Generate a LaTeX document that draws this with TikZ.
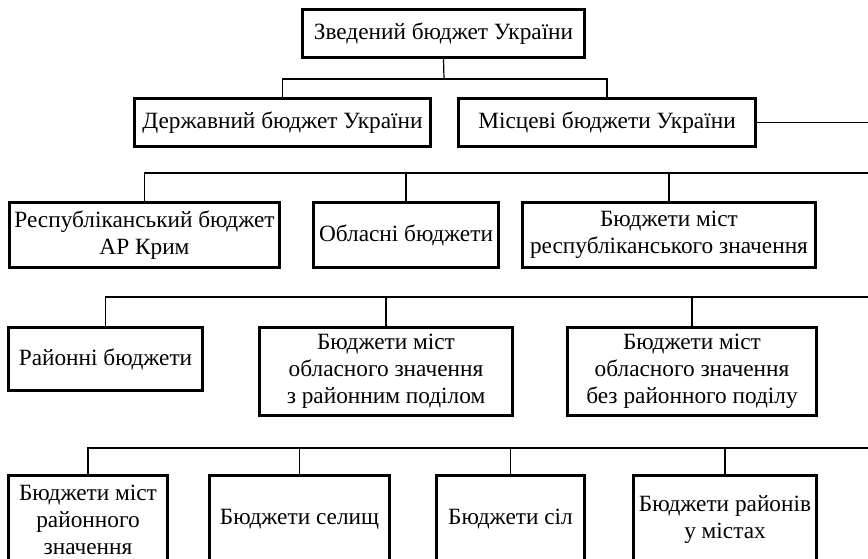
\documentclass[tikz,border=0pt]{standalone}
\usepackage{fontspec}
\setmainfont{Liberation Serif}
\begin{document}
\begin{tikzpicture}[x=1pt,y=-1pt,
  box/.style={draw=black, line width=3pt, align=center, inner sep=0pt,
    font=\fontsize{23.3}{27}\selectfont},
  link/.style={draw=black, line width=1.2pt}]
\useasboundingbox (0,0) rectangle (868,559);
\clip (0,0) rectangle (868,559);

% level 0
\node[box, minimum width=282, minimum height=48] (zved) at (443.5,33.5) {Зведений бюджет України};
% level 1
\node[box, minimum width=296, minimum height=48] (derzh) at (282.5,122.5) {Державний бюджет України};
\node[box, minimum width=297, minimum height=48] (mist) at (607,122.5) {Місцеві бюджети України};
% level 2
\node[box, minimum width=270, minimum height=65] (resp) at (144.5,235) {Республіканський бюджет\\АР Крим};
\node[box, minimum width=185, minimum height=65] (obl) at (406,235) {Обласні бюджети};
\node[box, minimum width=293, minimum height=65] (rcity) at (669,235) {Бюджети міст\\республіканського значення};
% level 3
\node[box, minimum width=194, minimum height=63] (rai) at (105.5,359) {Районні бюджети};
\node[box, minimum width=253, minimum height=88] (ocityd) at (386,371.5) {Бюджети міст\\обласного значення\\з районним поділом};
\node[box, minimum width=249, minimum height=88] (ocityn) at (692,371.5) {Бюджети міст\\обласного значення\\без районного поділу};
% level 4
\node[box, minimum width=159, minimum height=88] (dcity) at (88,519.5) {Бюджети міст\\районного\\значення};
\node[box, minimum width=180, minimum height=88] (sel) at (299.5,519.5) {Бюджети селищ};
\node[box, minimum width=148, minimum height=88] (sil) at (510.5,519.5) {Бюджети сіл};
\node[box, minimum width=183, minimum height=88] (urai) at (725,519.5) {Бюджети районів\\у містах};

% junctions and bus lines running off the right edge
\coordinate (j1) at (444,79);
\coordinate (out1) at (868,122.5);
\coordinate (bus2) at (868,173);
\coordinate (bus3) at (868,297);
\coordinate (bus4) at (868,448);

\draw[link] (zved.south) -- (j1);
\draw[link] (derzh.north) |- (mist.north |- j1) -- (mist.north);
\draw[link] (mist.east) -- (out1);

\draw[link] (resp.north) |- (bus2);
\draw[link] (obl.north) -- (obl.north |- bus2);
\draw[link] (rcity.north) -- (rcity.north |- bus2);

\draw[link] (rai.north) |- (bus3);
\draw[link] (ocityd.north) -- (ocityd.north |- bus3);
\draw[link] (ocityn.north) -- (ocityn.north |- bus3);

\draw[link] (dcity.north) |- (bus4);
\draw[link] (sel.north) -- (sel.north |- bus4);
\draw[link] (sil.north) -- (sil.north |- bus4);
\draw[link] (urai.north) -- (urai.north |- bus4);
\end{tikzpicture}
\end{document}
